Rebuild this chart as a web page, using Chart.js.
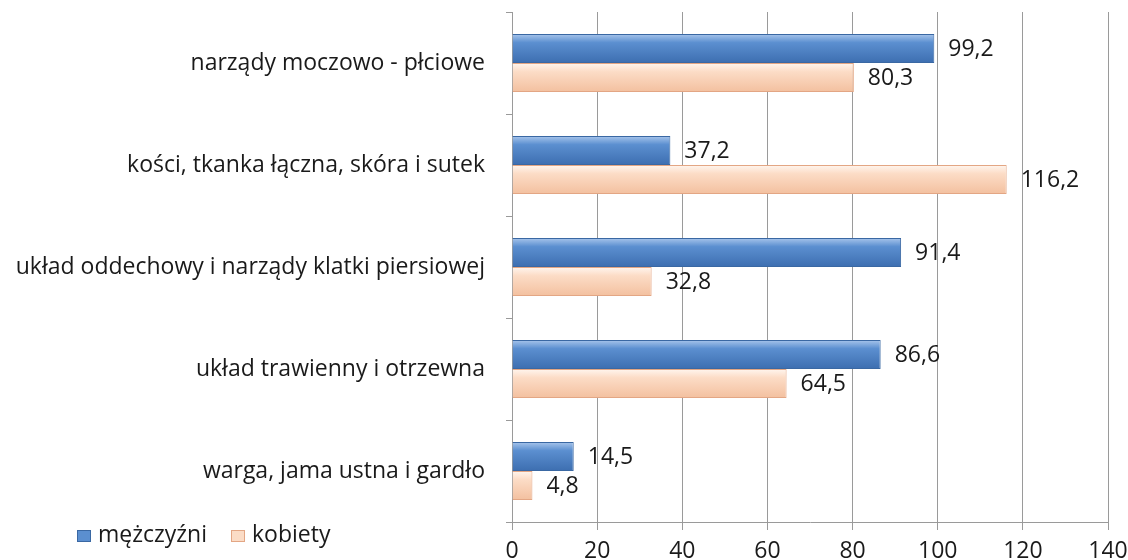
<!DOCTYPE html>
<html>
<head>
<meta charset="utf-8">
<script src="https://cdn.jsdelivr.net/npm/chart.js@4.4.0/dist/chart.umd.min.js"></script>
<style>
  html, body { margin: 0; padding: 0; background: #ffffff; }
  #wrap { position: relative; width: 1128px; height: 560px; }
  #legend { position: absolute; left: 77px; top: 517px; font-family: "Open Sans", Lato, sans-serif; font-size: 23px; color: #1a1a1a; display: flex; align-items: center; }
  .sw { display: inline-block; width: 14px; height: 12px; margin-right: 7px; margin-top: 5px; }
  .item { display: flex; align-items: center; margin-right: 24px; }
</style>
</head>
<body>
<div id="wrap">
  <canvas id="c" width="1128" height="560"></canvas>
  <div id="legend"></div>
</div>
<script>
const categories = [
  "narządy moczowo - płciowe",
  "kości, tkanka łączna, skóra i sutek",
  "układ oddechowy i narządy klatki piersiowej",
  "układ trawienny i otrzewna",
  "warga, jama ustna i gardło"
];
const seriesNames = ["mężczyźni", "kobiety"];
const men = [99.2, 37.2, 91.4, 86.6, 14.5];
const women = [80.3, 116.2, 32.8, 64.5, 4.8];
const xTicks = [0, 20, 40, 60, 80, 100, 120, 140];

const FONT = '"Open Sans", Lato, sans-serif';
const CAT_PCT = 0.57;
const BLUE_STOPS = ['#a9c6ec', '#5b8fd0', '#3d6eb0'];
const PEACH_STOPS = ['#fff6ef', '#fcdcc6', '#f3c09f'];

function fmt(v) { return v.toFixed(1).replace('.', ','); }

function grad(ctx, stops, which) {
  const chart = ctx.chart;
  const ys = chart.scales.y;
  if (!ys || !chart.chartArea || ctx.dataIndex === undefined) return stops[1];
  const center = ys.getPixelForValue(ctx.dataIndex);
  const band = (ys.bottom - ys.top) / categories.length;
  const th = band * CAT_PCT / 2;
  const top = which === 0 ? center - th : center;
  const bot = top + th;
  if (!isFinite(top) || !isFinite(bot)) return stops[1];
  const g = chart.ctx.createLinearGradient(0, top, 0, bot);
  g.addColorStop(0, stops[0]);
  g.addColorStop(0.3, stops[1]);
  g.addColorStop(1, stops[2]);
  return g;
}

const valueLabels = {
  id: 'valueLabels',
  afterDatasetsDraw(chart) {
    const ctx = chart.ctx;
    ctx.save();
    ctx.font = '23px ' + FONT;
    ctx.fillStyle = '#1a1a1a';
    ctx.textBaseline = 'middle';
    ctx.textAlign = 'left';
    chart.data.datasets.forEach((ds, di) => {
      chart.getDatasetMeta(di).data.forEach((bar, i) => {
        ctx.fillText(fmt(ds.data[i]), bar.x + 14, bar.y + 1);
      });
    });
    ctx.restore();
  }
};

new Chart(document.getElementById('c'), {
  type: 'bar',
  data: {
    labels: categories,
    datasets: [
      { label: seriesNames[0], data: men,
        backgroundColor: (ctx) => grad(ctx, BLUE_STOPS, 0),
        borderColor: '#3a68a3', borderWidth: 1, borderSkipped: 'left' },
      { label: seriesNames[1], data: women,
        backgroundColor: (ctx) => grad(ctx, PEACH_STOPS, 1),
        borderColor: '#e3a684', borderWidth: 1, borderSkipped: 'left' }
    ]
  },
  options: {
    indexAxis: 'y',
    responsive: false,
    animation: false,
    devicePixelRatio: 1,
    layout: { padding: { top: 12, right: 20, left: 0, bottom: 0 } },
    datasets: { bar: { categoryPercentage: CAT_PCT, barPercentage: 1.0 } },
    plugins: { legend: { display: false }, tooltip: { enabled: false } },
    scales: {
      x: {
        min: 0, max: 140,
        afterBuildTicks: (s) => { s.ticks = xTicks.map(v => ({ value: v })); },
        afterFit: (s) => { s.height = 38; s.paddingRight = 0; s.paddingLeft = 0; },
        grid: { color: '#9a9a9a', lineWidth: 1, tickLength: 8, drawTicks: true },
        border: { color: '#9a9a9a' },
        ticks: { font: { family: FONT, size: 23 }, color: '#1a1a1a', padding: 8, maxRotation: 0 }
      },
      y: {
        afterFit: (s) => { s.width = 512; s.paddingTop = 0; s.paddingBottom = 0; },
        grid: { drawOnChartArea: false, drawTicks: true, tickLength: 6, color: '#9a9a9a', offset: true },
        border: { color: '#9a9a9a' },
        ticks: { font: { family: FONT, size: 23 }, color: '#1a1a1a', padding: 21 }
      }
    }
  },
  plugins: [valueLabels]
});

const legendEl = document.getElementById('legend');
const swatches = [['#5b8fd0', '#3a68a3'], ['#fbdcc6', '#e3a684']];
seriesNames.forEach((n, i) => {
  const item = document.createElement('span');
  item.className = 'item';
  const sw = document.createElement('span');
  sw.className = 'sw';
  sw.style.background = swatches[i][0];
  sw.style.border = '1px solid ' + swatches[i][1];
  sw.style.boxSizing = 'border-box';
  const t = document.createElement('span');
  t.textContent = n;
  item.appendChild(sw); item.appendChild(t);
  legendEl.appendChild(item);
});
</script>
</body>
</html>
